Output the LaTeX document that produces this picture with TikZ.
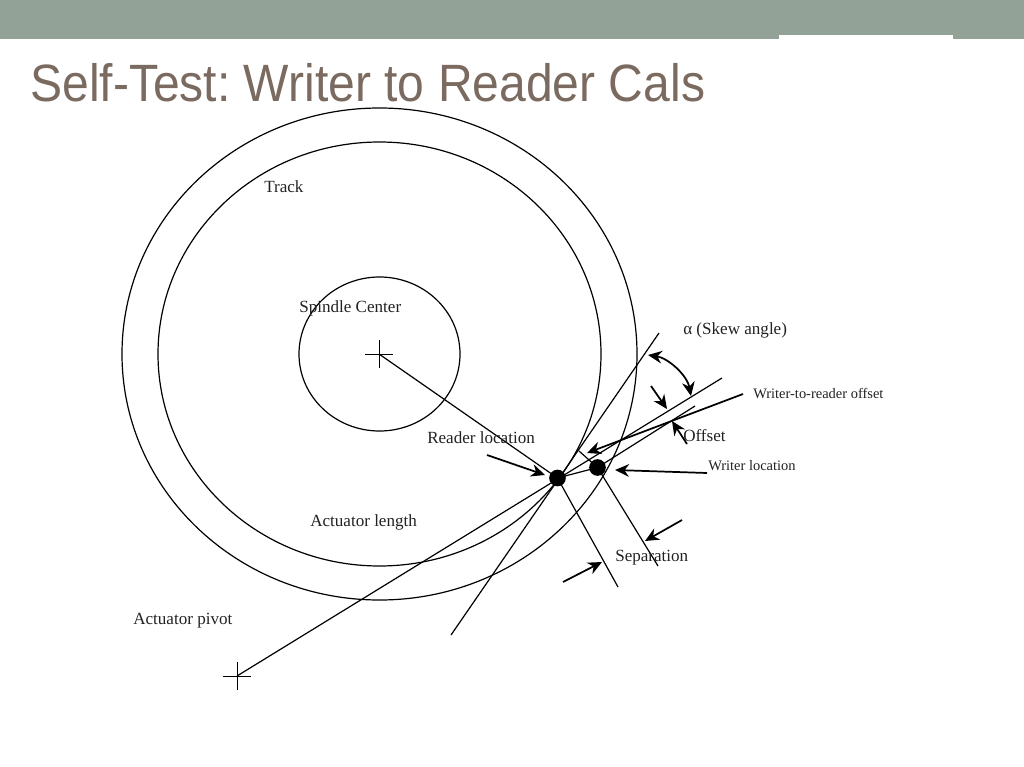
\documentclass[tikz,border=0pt]{standalone}
\usepackage{fontspec}
\setmainfont{Liberation Serif}
\newfontfamily\titlefont[FakeStretch=0.915]{Liberation Sans}
\usetikzlibrary{arrows.meta}
\definecolor{barcol}{HTML}{93A296}
\definecolor{titlecol}{HTML}{7A6A5F}
\definecolor{inkcol}{HTML}{222222}
\frenchspacing
\tikzset{
  ln/.style={draw=black,line width=0.9pt},
  thin cross/.style={draw=black,line width=0.65pt},
  arw/.style={draw=black,line width=1.3pt,-{Stealth[length=10.5pt,width=9.5pt]}},
  lab/.style={anchor=base west,inner sep=0pt,text=inkcol,font=\fontsize{12.8}{15}\selectfont},
  smalllab/.style={anchor=base west,inner sep=0pt,text=inkcol,font=\fontsize{10.85}{13}\selectfont},
  dotn/.style={circle,fill=black,inner sep=0pt,minimum size=12.5pt}
}
\begin{document}
\begin{tikzpicture}[x=0.75pt,y=-0.75pt]
\useasboundingbox (0,0) rectangle (1024,767);
\fill[barcol] (0,0) rectangle (1024,39);
\fill[white] (779,35) rectangle (953,39);
\node[anchor=base west,inner sep=0pt,text=titlecol,font=\titlefont\fontsize{39.4}{46}\selectfont] (title) at (30,101) {Self-Test: Writer to Reader Cals};
% circles
\draw[ln] (379.5,354) ellipse [x radius=257.5,y radius=246];
\draw[ln] (379.5,354) ellipse [x radius=221.5,y radius=212];
\draw[ln] (379.5,354) ellipse [x radius=80.5,y radius=77];
% named points
\coordinate (spindle) at (379,354);
\coordinate (pivot) at (237,676);
\coordinate (pivotEnd) at (722,378);
\coordinate (tanA) at (451,635);
\coordinate (tanB) at (659,333);
\coordinate (perpR) at (618,587);
\coordinate (perpWa) at (579,451);
\coordinate (perpWb) at (658,566);
\coordinate (offEnd) at (695,406);
\node[dotn] (reader) at (557.5,478) {};
\node[dotn] (writer) at (597.5,467.5) {};
% crosses
\draw[thin cross] (365,354) -- (393,354) (379,340) -- (379,368);
\draw[thin cross] (223,676) -- (251,676) (237,662) -- (237,690);
% lines
\draw[ln] (spindle) -- (reader.center);
\draw[ln] (pivot) -- (pivotEnd);
\draw[ln] (tanA) -- (tanB);
\draw[ln] (reader.center) -- (perpR);
\draw[ln] (perpWa) -- (writer.center) -- (perpWb);
\draw[ln] (reader.center) -- (writer.center);
\draw[ln] (writer.center) -- (offEnd);
% arrows
\coordinate (a1) at (743,394); \coordinate (a1t) at (587,453);
\draw[arw] (a1) -- (a1t);
\coordinate (a2) at (651,386); \coordinate (a2t) at (667,409);
\draw[arw] (a2) -- (a2t);
\coordinate (a3) at (687,444); \coordinate (a3t) at (672,421);
\draw[arw] (a3) -- (a3t);
\coordinate (a4) at (707,473); \coordinate (a4t) at (615,470);
\draw[arw] (a4) -- (a4t);
\coordinate (a5) at (487,455); \coordinate (a5t) at (545,475);
\draw[arw] (a5) -- (a5t);
\coordinate (a6) at (682,520); \coordinate (a6t) at (645,541);
\draw[arw] (a6) -- (a6t);
\coordinate (a7) at (563,582); \coordinate (a7t) at (602,562);
\draw[arw] (a7) -- (a7t);
\coordinate (s1) at (648,355); \coordinate (s2) at (691,396);
\draw[draw=black,line width=1.3pt,{Stealth[length=10.5pt,width=9.5pt]}-{Stealth[length=10.5pt,width=9.5pt]}] (s1) .. controls (668,358) and (687,375) .. (s2);
% labels
\node[lab] (track) at (264,192) {Track};
\node[lab] (spl) at (299,312) {Spindle Center};
\node[lab] (skew) at (683,334) {α (Skew angle)};
\node[smalllab] (w2r) at (753,398) {Writer-to-reader offset};
\node[lab] (offl) at (683,441) {Offset};
\node[lab] (rl) at (427,443) {Reader location};
\node[smalllab] (wl) at (708,470) {Writer location};
\node[lab] (al) at (310,526) {Actuator length};
\node[lab] (sep) at (615,561) {Separation};
\node[lab] (ap) at (133,624) {Actuator pivot};
\end{tikzpicture}
\end{document}
